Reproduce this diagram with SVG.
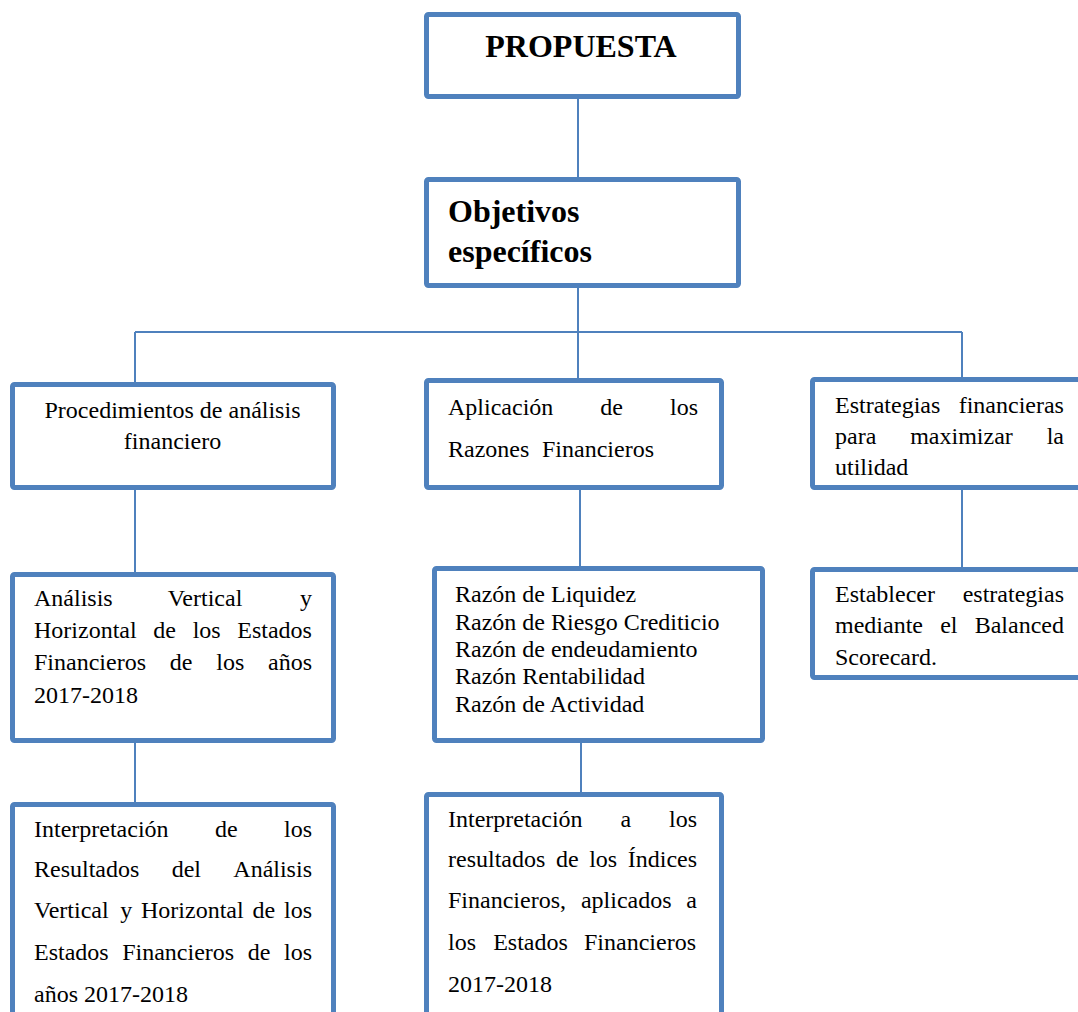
<svg xmlns="http://www.w3.org/2000/svg" width="1078" height="1012" viewBox="0 0 1078 1012">
<style>
.box{fill:#ffffff;stroke:#4F81BD;stroke-width:5;stroke-linejoin:round}
.con{stroke:#4F81BD;stroke-width:2;fill:none}
.t{font-family:"Liberation Serif","Times New Roman",serif;font-size:24px;fill:#000}
.b{font-family:"Liberation Serif","Times New Roman",serif;font-size:32px;font-weight:bold;fill:#000}
</style>
<rect width="1078" height="1012" fill="#ffffff"/>
<g id="connectors">
<line class="con" x1="578" y1="99" x2="578" y2="177"/>
<line class="con" x1="578" y1="288" x2="578" y2="332"/>
<line class="con" x1="135" y1="332" x2="962" y2="332"/>
<line class="con" x1="135" y1="332" x2="135" y2="382"/>
<line class="con" x1="578" y1="332" x2="578" y2="378"/>
<line class="con" x1="962" y1="332" x2="962" y2="377"/>
<line class="con" x1="135" y1="490" x2="135" y2="572"/>
<line class="con" x1="580" y1="490" x2="580" y2="566"/>
<line class="con" x1="962" y1="490" x2="962" y2="567"/>
<line class="con" x1="135" y1="743" x2="135" y2="802"/>
<line class="con" x1="581" y1="743" x2="581" y2="792"/>
</g>
<g id="propuesta">
<rect class="box" x="426.5" y="14.5" width="312" height="82" rx="2"/>
<text class="b" x="581" y="57" text-anchor="middle">PROPUESTA</text>
</g>
<g id="objetivos">
<rect class="box" x="426.5" y="179.5" width="312" height="106" rx="2"/>
<text class="b" x="448" y="222">Objetivos</text>
<text class="b" x="448" y="262">específicos</text>
</g>
<g id="procedimientos">
<rect class="box" x="12.5" y="384.5" width="321" height="103" rx="2"/>
<text class="t" x="172.5" y="418" text-anchor="middle">Procedimientos de análisis</text>
<text class="t" x="172.5" y="449" text-anchor="middle">financiero</text>
</g>
<g id="aplicacion">
<rect class="box" x="426.5" y="380.5" width="295" height="107" rx="2"/>
<text class="t" y="415"><tspan x="448">Aplicación</tspan><tspan x="600.3">de</tspan><tspan x="670">los</tspan></text>
<text class="t" y="457"><tspan x="448">Razones</tspan><tspan x="542">Financieros</tspan></text>
</g>
<g id="estrategias">
<rect class="box" x="812.5" y="379.5" width="275" height="108" rx="2"/>
<text class="t" y="413"><tspan x="835">Estrategias</tspan><tspan x="958.7">financieras</tspan></text>
<text class="t" y="444"><tspan x="835">para</tspan><tspan x="910.2">maximizar</tspan><tspan x="1046.7">la</tspan></text>
<text class="t" x="835" y="475">utilidad</text>
</g>
<g id="analisis">
<rect class="box" x="12.5" y="574.5" width="321" height="166" rx="2"/>
<text class="t" y="606"><tspan x="34">Análisis</tspan><tspan x="167.7">Vertical</tspan><tspan x="300">y</tspan></text>
<text class="t" y="638"><tspan x="34">Horizontal</tspan><tspan x="153.3">de</tspan><tspan x="192.7">los</tspan><tspan x="237.3">Estados</tspan></text>
<text class="t" y="670"><tspan x="34">Financieros</tspan><tspan x="169.8">de</tspan><tspan x="216.3">los</tspan><tspan x="268">años</tspan></text>
<text class="t" x="34" y="703">2017-2018</text>
</g>
<g id="razones">
<rect class="box" x="434.5" y="568.5" width="328" height="172" rx="2"/>
<text class="t" x="455" y="602">Razón de Liquidez</text>
<text class="t" x="455" y="630">Razón de Riesgo Crediticio</text>
<text class="t" x="455" y="657">Razón de endeudamiento</text>
<text class="t" x="455" y="684">Razón Rentabilidad</text>
<text class="t" x="455" y="712">Razón de Actividad</text>
</g>
<g id="establecer">
<rect class="box" x="812.5" y="569.5" width="275" height="108" rx="2"/>
<text class="t" y="602"><tspan x="835">Establecer</tspan><tspan x="962.7">estrategias</tspan></text>
<text class="t" y="633"><tspan x="835">mediante</tspan><tspan x="940.2">el</tspan><tspan x="974.7">Balanced</tspan></text>
<text class="t" x="835" y="665">Scorecard.</text>
</g>
<g id="interpretacion-resultados">
<rect class="box" x="12.5" y="804.5" width="321" height="230" rx="2"/>
<text class="t" y="837"><tspan x="34">Interpretación</tspan><tspan x="215">de</tspan><tspan x="284">los</tspan></text>
<text class="t" y="877"><tspan x="34">Resultados</tspan><tspan x="171.7">del</tspan><tspan x="233.3">Análisis</tspan></text>
<text class="t" y="918"><tspan x="34">Vertical</tspan><tspan x="120.2">y</tspan><tspan x="141">Horizontal</tspan><tspan x="252.5">de</tspan><tspan x="284">los</tspan></text>
<text class="t" y="960"><tspan x="34">Estados</tspan><tspan x="122.2">Financieros</tspan><tspan x="247.7">de</tspan><tspan x="284">los</tspan></text>
<text class="t" x="34" y="1002">años 2017-2018</text>
</g>
<g id="interpretacion-indices">
<rect class="box" x="426.5" y="794.5" width="295" height="240" rx="2"/>
<text class="t" y="827"><tspan x="448">Interpretación</tspan><tspan x="620.4">a</tspan><tspan x="669">los</tspan></text>
<text class="t" y="867"><tspan x="448">resultados</tspan><tspan x="555.9">de</tspan><tspan x="589.2">los</tspan><tspan x="627.8">Índices</tspan></text>
<text class="t" y="908"><tspan x="448">Financieros,</tspan><tspan x="580.9">aplicados</tspan><tspan x="686.3">a</tspan></text>
<text class="t" y="950"><tspan x="448">los</tspan><tspan x="493.2">Estados</tspan><tspan x="584">Financieros</tspan></text>
<text class="t" x="448" y="992">2017-2018</text>
</g>
</svg>
